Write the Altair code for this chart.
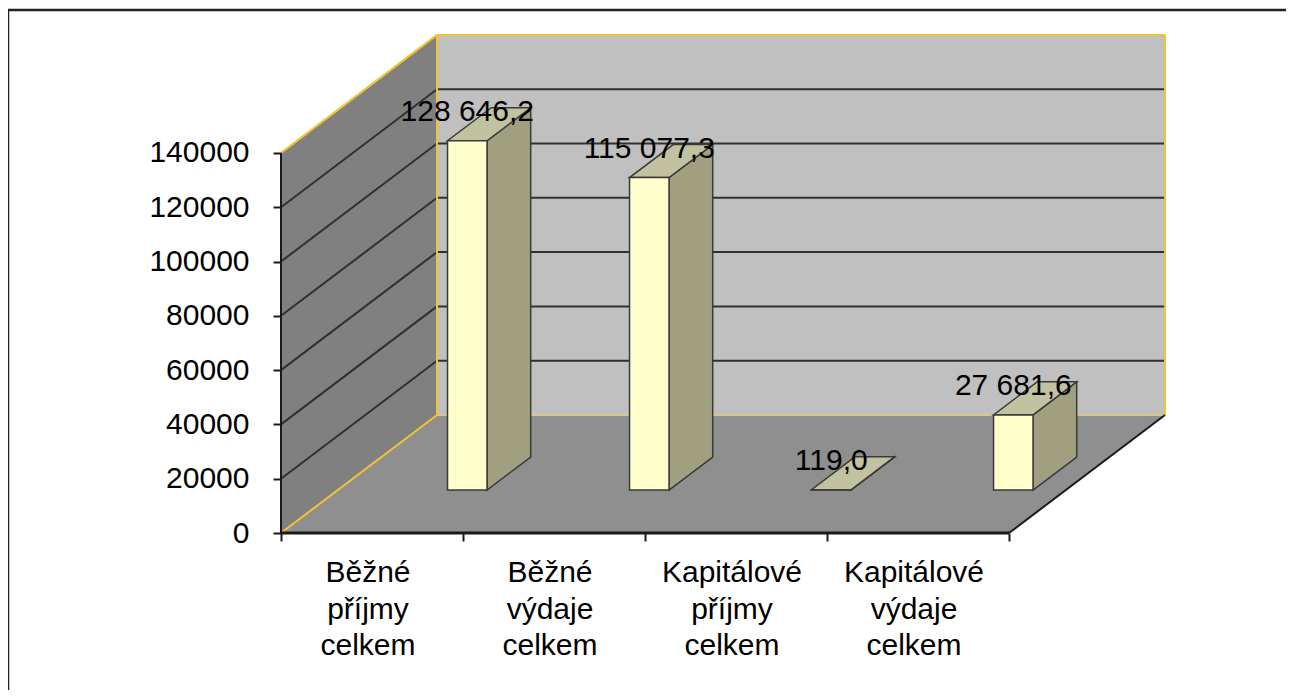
import altair as alt
import pandas as pd

# ---------------- data ----------------
CATEGORIES = [
    "Běžné\npříjmy\ncelkem",
    "Běžné\nvýdaje\ncelkem",
    "Kapitálové\npříjmy\ncelkem",
    "Kapitálové\nvýdaje\ncelkem",
]
VALUES = [128646.2, 115077.3, 119.0, 27681.6]
Y_TICKS = [0, 20000, 40000, 60000, 80000, 100000, 120000, 140000]
Y_MAX = 140000

# ---------------- layout / style ----------------
W, H = 1278, 682            # view size (page has 8px margin)
AX_X = 273                  # view x of front vertical axis
AX_Y = 525                  # view y of the value 0 on the front plane
CAT_PX = 182                # pixels per category
VAL_PX = 54.3 / 20000       # pixels per value unit
DEPTH_PX = (156, 118)       # oblique depth offset of the back wall
BAR_X0, BAR_W = 0.103, 0.217    # bar placement inside a category (floor units)
BAR_Z0, BAR_ZD = 0.364, 0.28    # bar depth position / thickness (fraction of depth)
FONT = "Liberation Sans"

U0 = -0.5 - AX_X / CAT_PX
U1 = U0 + W / CAT_PX
V1 = AX_Y / VAL_PX
V0 = V1 - H / VAL_PX
DX = DEPTH_PX[0] / CAT_PX
DV = DEPTH_PX[1] / VAL_PX

XL, XR = -0.5, len(CATEGORIES) - 0.5
X_BOUNDS = [XL + i for i in range(len(CATEGORIES) + 1)]

xs = alt.Scale(domain=[U0, U1], nice=False, zero=False)
ys = alt.Scale(domain=[V0, V1], nice=False, zero=False)

X_AXIS = alt.Axis(values=X_BOUNDS, labels=False, tickSize=8, tickWidth=2,
                  tickColor="#1A1A1A", domain=False, grid=False, title=None,
                  orient="bottom", offset=-(H - AX_Y), zindex=1)
Y_AXIS = alt.Axis(values=Y_TICKS, format="d", labelFont=FONT, labelFontSize=30,
                  labelColor="black", labelPadding=24, labelFlush=False,
                  tickSize=8, tickWidth=2, tickColor="#1A1A1A", domain=False,
                  grid=False, title=None, orient="left", offset=-AX_X, zindex=1)


def X(f):
    return alt.X(f, type="quantitative", scale=xs, stack=None, axis=X_AXIS)


def Y(f):
    return alt.Y(f, type="quantitative", scale=ys, stack=None, axis=Y_AXIS)


def proj(x, z, val):
    return x + z * DX, val + z * DV


# ---------------- walls & floor ----------------
floor_df = pd.DataFrame([
    {"v": 0.0, "ulo": XL, "uhi": XR},
    {"v": DV, "ulo": XL + DX, "uhi": XR + DX},
])
left_df = pd.DataFrame([
    {"u": XL, "lo": 0.0, "hi": Y_MAX},
    {"u": XL + DX, "lo": DV, "hi": Y_MAX + DV},
])
back_df = pd.DataFrame([{"u": XL + DX, "u2": XR + DX, "v": DV, "v2": Y_MAX + DV}])

floor = alt.Chart(floor_df).mark_area(orient="horizontal", color="#8F8F8F").encode(
    y=Y("v"), x=X("ulo"), x2="uhi")
left_wall = alt.Chart(left_df).mark_area(orient="vertical", color="#808080").encode(
    x=X("u"), y=Y("lo"), y2="hi")
back_wall = alt.Chart(back_df).mark_rect(color="#C0C0C0").encode(
    x=X("u"), x2="u2", y=Y("v"), y2="v2")

grid_rows = []
for t in Y_TICKS[1:-1]:
    grid_rows.append({"u": XL + DX, "v": t + DV, "u2": XR + DX, "v2": t + DV})
    grid_rows.append({"u": XL, "v": t, "u2": XL + DX, "v2": t + DV})
grid = alt.Chart(pd.DataFrame(grid_rows)).mark_rule(color="#303030", strokeWidth=2).encode(
    x=X("u"), y=Y("v"), x2="u2", y2="v2")

yellow_rows = [
    {"u": XL, "v": Y_MAX, "u2": XL + DX, "v2": Y_MAX + DV},
    {"u": XL, "v": 0.0, "u2": XL + DX, "v2": DV},
    {"u": XL + DX, "v": DV, "u2": XL + DX, "v2": Y_MAX + DV},
    {"u": XL + DX, "v": Y_MAX + DV, "u2": XR + DX, "v2": Y_MAX + DV},
    {"u": XR + DX, "v": DV, "u2": XR + DX, "v2": Y_MAX + DV},
]
yellow = alt.Chart(pd.DataFrame(yellow_rows)).mark_rule(color="#F0C530", strokeWidth=2).encode(
    x=X("u"), y=Y("v"), x2="u2", y2="v2")
tan = alt.Chart(pd.DataFrame([{"u": XL + DX, "v": DV, "u2": XR + DX, "v2": DV}])).mark_rule(
    color="#D9C68A", strokeWidth=2).encode(x=X("u"), y=Y("v"), x2="u2", y2="v2")

edge_rows = [
    {"u": XL, "v": 0.0, "u2": XL, "v2": Y_MAX, "w": 2},
    {"u": XR, "v": 0.0, "u2": XR + DX, "v2": DV, "w": 2},
    {"u": XL, "v": 0.0, "u2": XR, "v2": 0.0, "w": 3},
]
edges = alt.Chart(pd.DataFrame(edge_rows)).mark_rule(color="#1A1A1A").encode(
    x=X("u"), y=Y("v"), x2="u2", y2="v2",
    strokeWidth=alt.StrokeWidth("w:Q", scale=None),
)

# ---------------- bars ----------------
side_rows, top_rows, front_rows, label_rows = [], [], [], []
for i, val in enumerate(VALUES):
    xl = i + BAR_X0
    xr = xl + BAR_W
    z0, z1 = BAR_Z0, BAR_Z0 + BAR_ZD
    ul0, vb0 = proj(xl, z0, 0.0)
    ur0, _ = proj(xr, z0, 0.0)
    ul1, vb1 = proj(xl, z1, 0.0)
    ur1, _ = proj(xr, z1, 0.0)
    side_rows += [
        {"bar": i, "u": ur0, "lo": vb0, "hi": vb0 + val},
        {"bar": i, "u": ur1, "lo": vb1, "hi": vb1 + val},
    ]
    top_rows += [
        {"bar": i, "v": vb0 + val, "ulo": ul0, "uhi": ur0},
        {"bar": i, "v": vb1 + val, "ulo": ul1, "uhi": ur1},
    ]
    front_rows.append({"bar": i, "u": ul0, "u2": ur0, "v": vb0, "v2": vb0 + val})
    txt = f"{val:,.1f}".replace(",", " ").replace(".", ",")
    label_rows.append({"u": (ul0 + ur0) / 2, "v": vb0 + val, "text": txt})

BAR_STROKE = "#3A3A3A"
side = alt.Chart(pd.DataFrame(side_rows)).mark_area(
    orient="vertical", fill="#A0A080", stroke=BAR_STROKE, strokeWidth=1.5, opacity=1).encode(
    x=X("u"), y=Y("lo"), y2="hi", detail="bar:N")
top = alt.Chart(pd.DataFrame(top_rows)).mark_area(
    orient="horizontal", fill="#C2C2A0", stroke=BAR_STROKE, strokeWidth=1.5, opacity=1).encode(
    y=Y("v"), x=X("ulo"), x2="uhi", detail="bar:N")
front = alt.Chart(pd.DataFrame(front_rows)).mark_rect(
    fill="#FFFFCC", stroke=BAR_STROKE, strokeWidth=1.5).encode(
    x=X("u"), x2="u2", y=Y("v"), y2="v2")

labels = alt.Chart(pd.DataFrame(label_rows)).mark_text(
    font=FONT, fontSize=30, color="black", align="center", baseline="middle", dy=-29).encode(
    x=X("u"), y=Y("v"), text="text:N")

cat_df = pd.DataFrame({"u": list(range(len(CATEGORIES))), "v": [0.0] * len(CATEGORIES),
                       "text": CATEGORIES})
cat_labels = alt.Chart(cat_df).mark_text(
    font=FONT, fontSize=30, color="black", align="center", baseline="alphabetic",
    lineBreak="\n", lineHeight=36.5, dy=49, dx=-4).encode(
    x=X("u"), y=Y("v"), text="text:N")

# ---------------- outer frame (top and left only) ----------------
one = pd.DataFrame({"k": [0]})
frame_top = alt.Chart(one).mark_rule(color="#222222", strokeWidth=2.5).encode(
    x=alt.value(0), x2=alt.value(W), y=alt.value(2), y2=alt.value(2))
frame_left = alt.Chart(one).mark_rule(color="#222222", strokeWidth=2.5).encode(
    x=alt.value(0), x2=alt.value(0), y=alt.value(2), y2=alt.value(H))

chart = alt.layer(
    floor, back_wall, left_wall, grid, tan, yellow, edges,
    side, top, front, labels, cat_labels, frame_top, frame_left,
).properties(
    width=W, height=H, padding=0,
    autosize=alt.AutoSizeParams(type="none"),
    background="white",
).configure_view(stroke=None)

chart.save("out.html", embed_options={"renderer": "svg", "actions": False})
